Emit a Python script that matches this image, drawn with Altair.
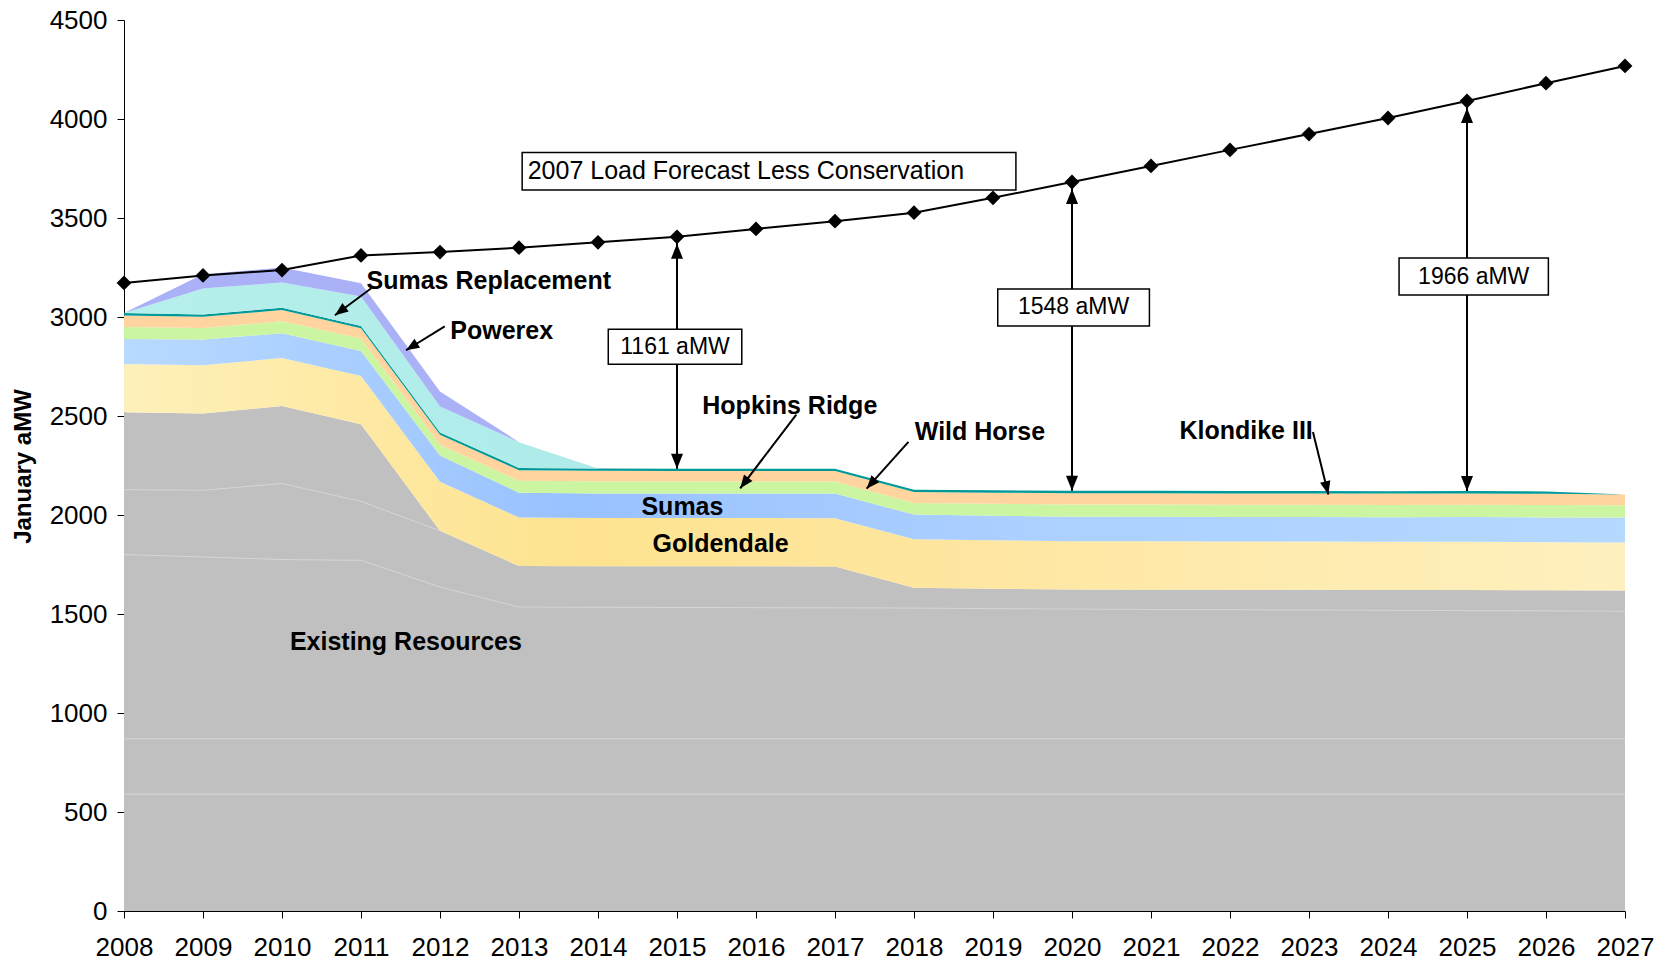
import math
import altair as alt
import pandas as pd

FONT = "Liberation Sans"

# ---------------- data ----------------
years = list(range(2008, 2028))
load_forecast = [3172, 3210, 3237, 3311, 3328, 3350, 3377, 3405, 3445, 3484,
                 3527, 3602, 3682, 3763, 3844, 3924, 4005, 4091, 4181, 4268]

# existing resources (several grey sub-blocks)
existing_a = [590, 590, 590, 590, 590, 590, 590, 590, 590, 590,
              590, 590, 590, 590, 590, 590, 590, 590, 590, 590]
existing_b = [280, 280, 280, 280, 280, 280, 280, 280, 280, 280,
              280, 280, 280, 280, 280, 280, 280, 280, 280, 280]
existing_c = [930, 918, 905, 901, 766, 665, 664, 663, 662, 661,
              660, 657, 655, 653, 652, 650, 649, 647, 646, 644]
existing_d = [328, 337, 384, 298, 284, 207, 207, 208, 209, 209,
              103, 101, 99, 100, 100, 102, 102, 104, 104, 105]
existing_e = [391, 387, 392, 389, 0, 0, 0, 0, 0, 0,
              0, 0, 0, 0, 0, 0, 0, 0, 0, 0]

goldendale = [244, 244, 242, 244, 248, 245, 244, 244, 244, 244,
              244, 244, 244, 244, 244, 244, 244, 244, 243, 242]
sumas = [126, 130, 125, 126, 132, 126, 124, 123, 123, 124,
         125, 124, 123, 124, 124, 124, 124, 125, 125, 126]
hopkins_ridge = [60, 58, 60, 63, 55, 60, 61, 62, 62, 61,
                 59, 61, 62, 62, 62, 62, 62, 62, 62, 62]
wild_horse = [59, 57, 57, 52, 50, 53, 53, 52, 52, 53,
              55, 56, 57, 57, 57, 57, 57, 57, 57, 55]
klondike_iii = [12, 12, 12, 12, 12, 12, 12, 12, 12, 12,
                12, 12, 12, 12, 12, 12, 12, 12, 12, 0]
sumas_replacement = [0, 131, 127, 148, 131, 130, 0, 0, 0, 0,
                     0, 0, 0, 0, 0, 0, 0, 0, 0, 0]
powerex = [0, 72, 76, 68, 76, 0, 0, 0, 0, 0,
           0, 0, 0, 0, 0, 0, 0, 0, 0, 0]

gap_years = [2015, 2020, 2025]
gap_labels = ["1161 aMW", "1548 aMW", "1966 aMW"]

# ---------------- layout ----------------
W, H = 1501, 891
Y_MAX = 4500
xs = alt.Scale(domain=[2008, 2027], nice=False, zero=False)
ys = alt.Scale(domain=[0, Y_MAX], nice=False, zero=True)

x_axis = alt.Axis(values=years, format="d", tickSize=7, tickWidth=1, tickColor="black",
                  domainColor="black", domainWidth=1, grid=False, labelFlush=False,
                  labelOverlap=False, labelPadding=16, labelFont=FONT, labelFontSize=26,
                  labelColor="black", title=None)
y_axis = alt.Axis(values=list(range(0, 4501, 500)), format="d", tickSize=7, tickWidth=1,
                  tickColor="black", domainColor="black", domainWidth=1, grid=False,
                  labelPadding=10, labelFont=FONT, labelFontSize=26, labelColor="black",
                  title="January aMW", titleFont=FONT, titleFontSize=24, titleFontWeight="bold",
                  titleColor="black", titleAngle=270, titleX=-101, titleY=446,
                  titleAlign="center", titleBaseline="middle")


def X(f):
    return alt.X(f, type="quantitative", scale=xs, axis=x_axis)


def Y(f):
    return alt.Y(f, type="quantitative", scale=ys, axis=y_axis)


def grad(stops):
    return alt.Gradient(gradient="linear", x1=0, x2=1, y1=0, y2=0,
                        stops=[alt.GradientStop(offset=o, color=c) for o, c in stops])


# cumulative stacking
stack_order = [
    ("Existing A", existing_a), ("Existing B", existing_b), ("Existing C", existing_c),
    ("Existing D", existing_d), ("Existing E", existing_e),
    ("Goldendale", goldendale), ("Sumas", sumas), ("Hopkins Ridge", hopkins_ridge),
    ("Wild Horse", wild_horse), ("Klondike III", klondike_iii),
    ("Sumas Replacement", sumas_replacement), ("Powerex", powerex),
]
base = [0] * len(years)
bounds = {}
for name, vals in stack_order:
    top = [b + v for b, v in zip(base, vals)]
    bounds[name] = (list(base), top)
    base = top
total = base

fills = {
    "Existing": "#C0C0C0",
    "Goldendale": grad([(0, "#FEF0BA"), (0.3, "#FDE38F"), (0.55, "#FEE6A0"), (1, "#FEF0BE")]),
    "Sumas": grad([(0, "#B9DAFF"), (0.3, "#98C1FF"), (0.6, "#ACD0FF"), (1, "#B5D8FF")]),
    "Hopkins Ridge": "#CCF5A2",
    "Wild Horse": "#FFD49F",
    "Klondike III": "#009999",
    "Sumas Replacement": grad([(0, "#B6EFEC"), (1, "#9EE4E2")]),
    "Powerex": "#AAB1F7",
}

layers = []

# grey existing block
ex_top = bounds["Existing E"][1]
df_ex = pd.DataFrame({"year": years, "lo": [0] * len(years), "hi": ex_top})
layers.append(alt.Chart(df_ex).mark_area(color=fills["Existing"], opacity=1, line=False)
              .encode(x=X("year"), y=Y("hi"), y2="lo"))

# faint separators inside the grey block
sep_rows = []
for name in ["Existing A", "Existing B", "Existing C", "Existing D"]:
    for yr, v in zip(years, bounds[name][1]):
        if name == "Existing D" and yr > 2012:
            continue
        sep_rows.append({"year": yr, "v": v, "b": name})
layers.append(alt.Chart(pd.DataFrame(sep_rows)).mark_line(color="#D6D6D6", strokeWidth=1)
              .encode(x=X("year"), y=Y("v"), detail="b:N"))

for name in ["Goldendale", "Sumas", "Hopkins Ridge", "Wild Horse", "Klondike III",
             "Sumas Replacement", "Powerex"]:
    lo, hi = bounds[name]
    df = pd.DataFrame({"year": years, "lo": lo, "hi": hi})
    layers.append(alt.Chart(df).mark_area(color=fills[name], opacity=1)
                  .encode(x=X("year"), y=Y("hi"), y2="lo"))

# ---------------- gap arrows ----------------
load_by_year = dict(zip(years, load_forecast))
tot_by_year = dict(zip(years, total))
df_gap = pd.DataFrame({
    "year": gap_years,
    "load": [load_by_year[y] for y in gap_years],
    "res": [tot_by_year[y] for y in gap_years],
})
layers.append(alt.Chart(df_gap).mark_rule(color="black", strokeWidth=2)
              .encode(x=X("year"), y=Y("res"), y2="load"))

ARROW = "M0,0 L-0.4,-1 L0.4,-1 Z"
HEAD_BIG = 900

df_down = pd.DataFrame({"year": gap_years, "v": df_gap["res"], "a": [0, 0, 0]})
df_up = pd.DataFrame({"year": gap_years, "v": df_gap["load"], "a": [180, 180, 180]})
layers.append(alt.Chart(df_down).mark_point(shape=ARROW, filled=True, size=HEAD_BIG,
                                            color="black", opacity=1, strokeWidth=0)
              .encode(x=X("year"), y=Y("v"), angle=alt.Angle("a:Q", scale=None)))
layers.append(alt.Chart(df_up).mark_point(shape=ARROW, filled=True, size=HEAD_BIG,
                                          color="black", opacity=1, strokeWidth=0, yOffset=7)
              .encode(x=X("year"), y=Y("v"), angle=alt.Angle("a:Q", scale=None)))

# boxes
box_text = ["2007 Load Forecast Less Conservation"] + gap_labels
box_x1 = [2013.04, 2014.13, 2019.06, 2024.14]
box_x2 = [2019.29, 2015.82, 2020.98, 2026.03]
box_y1 = [3642, 2761, 2955, 3111]
box_y2 = [3831, 2938, 3142, 3298]
df_box = pd.DataFrame({"x1": box_x1, "x2": box_x2, "y1": box_y1, "y2": box_y2})
layers.append(alt.Chart(df_box).mark_rect(fill="white", stroke="black", strokeWidth=1.5)
              .encode(x=X("x1"), x2="x2", y=Y("y1"), y2="y2"))

df_boxtext = pd.DataFrame({
    "t": box_text,
    "x": [2013.11, 2014.975, 2020.02, 2025.085],
    "y": [3736, 2849, 3048, 3204],
})
layers.append(alt.Chart(df_boxtext.iloc[:1]).mark_text(align="left", baseline="middle", font=FONT,
                                                       fontSize=25, color="black")
              .encode(x=X("x"), y=Y("y"), text="t:N"))
layers.append(alt.Chart(df_boxtext.iloc[1:]).mark_text(align="center", baseline="middle", font=FONT,
                                                       fontSize=23, color="black")
              .encode(x=X("x"), y=Y("y"), text="t:N"))

# ---------------- bold labels & pointer arrows ----------------
lab_text = ["Sumas Replacement", "Powerex", "Hopkins Ridge", "Wild Horse", "Klondike III",
            "Sumas", "Goldendale", "Existing Resources"]
lab_x = [2011.07, 2012.13, 2015.32, 2018.01, 2021.36, 2014.55, 2014.69, 2010.10]
lab_y = [3180, 2928, 2552, 2417, 2423, 2041, 1852, 1358]
df_lab = pd.DataFrame({"t": lab_text, "x": lab_x, "y": lab_y})
layers.append(alt.Chart(df_lab).mark_text(align="left", baseline="middle", font=FONT, fontSize=25,
                                          fontWeight="bold", color="black")
              .encode(x=X("x"), y=Y("y"), text="t:N"))

ptr_x0 = [2011.13, 2012.06, 2016.51, 2017.93, 2023.05]
ptr_v0 = [3145, 2953, 2507, 2369, 2419]
ptr_x1 = [2010.67, 2011.57, 2015.80, 2017.40, 2023.245]
ptr_v1 = [3009, 2832, 2135, 2133, 2104]
ang = []
for a, b, c, d in zip(ptr_x0, ptr_v0, ptr_x1, ptr_v1):
    px = (c - a) * W / 19.0
    py = -(d - b) * H / Y_MAX
    ang.append(math.degrees(math.atan2(-px, py)) % 360)
df_ptr = pd.DataFrame({"x0": ptr_x0, "v0": ptr_v0, "x1": ptr_x1, "v1": ptr_v1, "a": ang})
layers.append(alt.Chart(df_ptr).mark_rule(color="black", strokeWidth=2)
              .encode(x=X("x0"), y=Y("v0"), x2="x1", y2="v1"))
layers.append(alt.Chart(df_ptr).mark_point(shape=ARROW, filled=True, size=700, color="black",
                                           opacity=1, strokeWidth=0)
              .encode(x=X("x1"), y=Y("v1"), angle=alt.Angle("a:Q", scale=None)))

# ---------------- load forecast line ----------------
df_load = pd.DataFrame({"year": years, "load": load_forecast})
layers.append(alt.Chart(df_load).mark_line(color="black", strokeWidth=2)
              .encode(x=X("year"), y=Y("load")))
layers.append(alt.Chart(df_load).mark_point(shape="diamond", filled=True, size=220, color="black",
                                            opacity=1, strokeWidth=0)
              .encode(x=X("year"), y=Y("load")))

chart = alt.layer(*layers).properties(
    width=W, height=H,
    autosize=alt.AutoSizeParams(type="none"),
    padding={"left": 124, "top": 20, "right": 44, "bottom": 49},
).configure_view(stroke=None)

chart.save("out.html", embed_options={"renderer": "svg", "actions": False})
